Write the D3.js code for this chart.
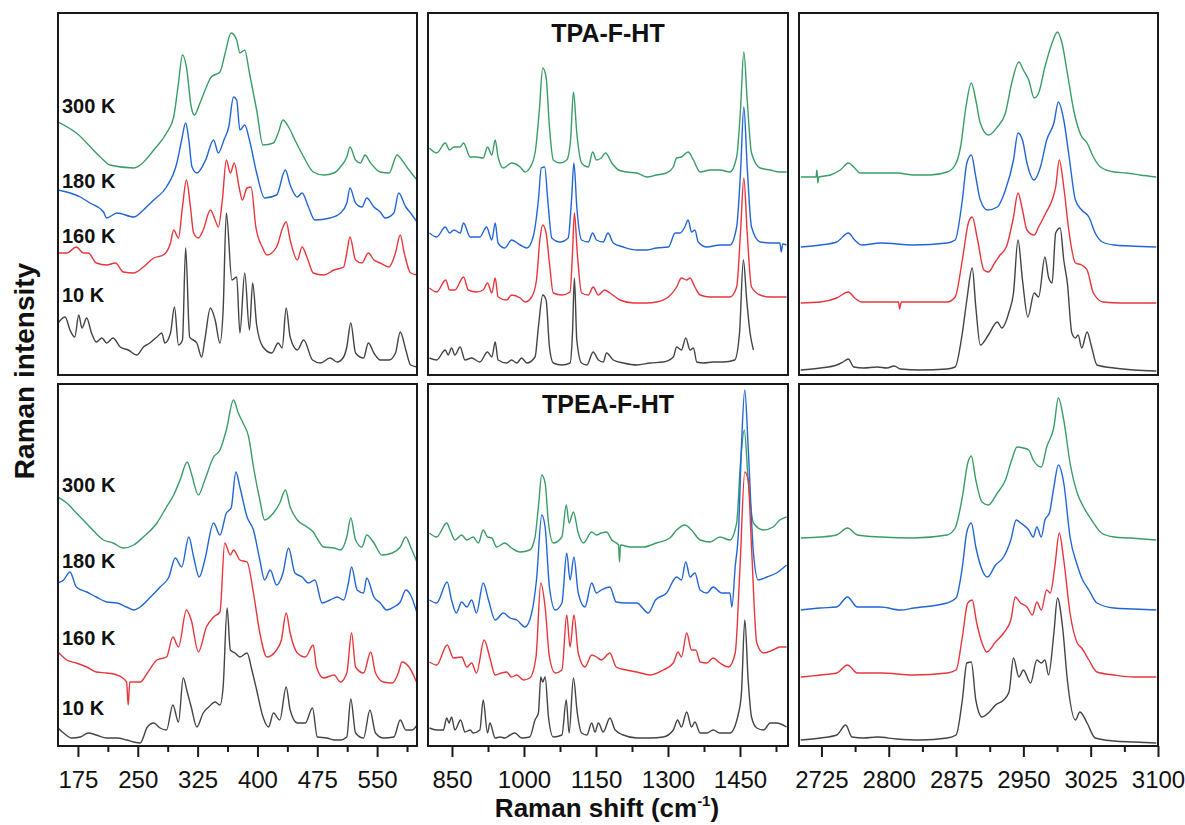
<!DOCTYPE html>
<html><head><meta charset="utf-8">
<script src="https://cdn.jsdelivr.net/npm/d3@7"></script>
<style>body{margin:0;background:#fff} svg{display:block;font-family:"Liberation Sans",Arial,sans-serif}</style>
</head><body><svg id="c" width="1185" height="825"></svg>
<script>
// ---- categories / labels ----
const temperatures = ["10 K", "160 K", "180 K", "300 K"];
const compounds = ["TPA-F-HT", "TPEA-F-HT"];
const shiftRanges = [[150, 600], [800, 1550], [2700, 3100]];
const majorTicks = [[175, 250, 325, 400, 475, 550], [850, 1000, 1150, 1300, 1450], [2725, 2800, 2875, 2950, 3025, 3100]];
const minorTicks = [[212.5, 287.5, 362.5, 437.5, 512.5, 587.5], [925, 1075, 1225, 1375, 1525], [2762.5, 2837.5, 2912.5, 2987.5, 3062.5]];

// ---- TPA-F-HT spectra (shift, stacked intensity a.u.) ----
const tpaLow300 = [[150,253],[173,242],[203,218],[215,210],[245,207],[253,210],[270,225],[286,242],[295,258],[301,292],[306,320],[311,308],[317,268],[321,260],[328,272],[336,288],[342,298],[353,303],[359,320],[367,342],[374,335],[378,322],[384,325],[390,302],[399,265],[407,230],[420,232],[426,242],[432,255],[439,248],[447,235],[458,218],[470,203],[483,200],[496,202],[504,208],[512,218],[516,228],[523,215],[529,212],[535,220],[541,213],[554,203],[565,202],[575,220],[581,215],[590,205],[600,195]];
const tpaLow180 = [[150,185],[161,183],[178,178],[190,172],[207,163],[211,157],[224,162],[245,158],[257,165],[270,175],[286,188],[299,212],[305,235],[310,252],[314,235],[318,208],[324,202],[335,215],[345,235],[351,222],[358,235],[364,248],[370,278],[374,275],[378,245],[384,250],[390,235],[399,202],[409,177],[424,180],[435,205],[441,190],[450,178],[456,182],[464,168],[472,155],[491,157],[504,162],[512,172],[516,187],[523,172],[531,168],[537,177],[546,168],[554,163],[560,157],[571,162],[577,182],[586,168],[592,162],[600,153]];
const tpaLow160 = [[150,122],[161,122],[173,128],[182,122],[188,122],[198,112],[211,110],[222,112],[232,103],[245,102],[257,108],[270,117],[282,120],[291,132],[295,145],[301,137],[306,168],[311,195],[316,168],[320,142],[326,137],[332,145],[341,165],[347,155],[351,148],[356,175],[361,215],[366,202],[371,212],[377,188],[381,175],[387,187],[392,188],[398,148],[406,128],[412,120],[424,128],[432,148],[436,153],[441,135],[450,115],[456,128],[462,118],[470,102],[483,100],[496,105],[508,108],[512,122],[516,138],[523,115],[531,112],[539,122],[546,115],[554,112],[565,108],[573,122],[579,140],[584,122],[592,102],[600,100]];
const tpaLow10 = [[150,52],[159,58],[165,45],[171,38],[176,60],[180,47],[186,57],[192,42],[198,33],[205,37],[211,32],[219,37],[228,28],[238,25],[249,20],[257,28],[265,32],[274,38],[280,42],[284,32],[291,42],[296,68],[301,30],[306,35],[310,127],[315,38],[324,32],[330,18],[334,35],[341,67],[347,55],[353,32],[357,65],[361,162],[368,95],[374,98],[378,42],[384,102],[390,45],[394,92],[399,50],[407,28],[418,22],[426,32],[431,27],[436,67],[441,38],[450,25],[458,35],[469,15],[479,12],[491,17],[500,13],[508,18],[512,28],[517,52],[523,22],[533,17],[539,32],[546,22],[554,15],[565,15],[573,22],[579,43],[586,25],[592,10],[600,8]];

const tpaMid300 = [[803,227],[818,222],[836,232],[845,225],[854,228],[867,228],[874,232],[888,218],[901,218],[915,217],[924,228],[933,220],[940,235],[946,218],[957,207],[974,212],[992,208],[1002,203],[1012,207],[1023,222],[1032,265],[1039,307],[1046,298],[1053,248],[1061,215],[1075,212],[1089,215],[1097,235],[1103,283],[1110,242],[1120,212],[1134,208],[1143,223],[1151,215],[1161,217],[1170,222],[1183,212],[1197,205],[1214,203],[1235,202],[1256,198],[1276,200],[1297,202],[1311,208],[1318,217],[1328,218],[1342,223],[1353,215],[1367,203],[1388,205],[1408,205],[1429,203],[1443,218],[1451,265],[1458,323],[1465,275],[1474,222],[1492,207],[1513,205],[1533,203],[1547,203]];
const tpaMid180 = [[803,142],[818,138],[836,148],[845,142],[854,145],[867,142],[874,152],[888,138],[908,138],[922,148],[933,135],[940,152],[946,132],[960,127],[974,135],[992,130],[1006,127],[1019,138],[1030,175],[1036,207],[1043,208],[1050,172],[1058,137],[1075,133],[1092,137],[1099,175],[1104,212],[1110,168],[1120,135],[1134,133],[1143,142],[1151,135],[1165,133],[1175,142],[1186,132],[1207,128],[1235,125],[1256,125],[1276,127],[1301,128],[1315,142],[1325,142],[1335,148],[1342,155],[1349,143],[1356,145],[1363,133],[1381,128],[1408,130],[1429,130],[1443,148],[1451,202],[1458,268],[1465,208],[1474,148],[1492,133],[1513,132],[1533,132],[1536,123],[1539,131],[1547,130]];
const tpaMid160 = [[803,87],[818,83],[837,95],[845,85],[856,85],[874,98],[884,85],[901,83],[915,85],[924,92],[933,82],[940,97],[946,78],[964,75],[974,80],[992,77],[1002,73],[1016,78],[1026,95],[1033,135],[1039,150],[1046,142],[1053,112],[1061,82],[1079,80],[1096,83],[1101,122],[1105,162],[1111,122],[1120,82],[1134,80],[1144,88],[1155,80],[1168,85],[1179,82],[1200,75],[1228,72],[1256,72],[1276,73],[1301,78],[1318,88],[1328,97],[1339,95],[1346,97],[1356,88],[1367,80],[1388,78],[1408,78],[1429,78],[1443,88],[1451,142],[1458,197],[1465,142],[1474,88],[1492,80],[1513,78],[1533,78],[1547,78]];
const tpaMid10 = [[803,17],[818,15],[836,25],[842,20],[849,27],[856,20],[867,28],[877,15],[891,17],[908,13],[924,23],[933,18],[940,33],[946,15],[964,12],[974,15],[985,12],[995,17],[1006,12],[1023,18],[1030,48],[1039,80],[1046,75],[1053,28],[1061,12],[1079,10],[1096,12],[1101,42],[1105,97],[1110,35],[1120,12],[1131,10],[1144,23],[1155,15],[1165,13],[1172,22],[1186,15],[1207,12],[1235,10],[1263,12],[1290,13],[1311,18],[1318,28],[1328,25],[1337,37],[1346,25],[1353,27],[1360,13],[1374,12],[1394,13],[1415,13],[1439,15],[1449,42],[1457,115],[1464,75],[1471,42],[1478,25]];

const tpaHigh300 = [[2702,198],[2716,198],[2719,198],[2720,205],[2721,192],[2722,198],[2735,200],[2746,205],[2755,212],[2761,208],[2768,202],[2791,202],[2809,202],[2828,200],[2846,200],[2865,203],[2874,210],[2880,228],[2886,268],[2892,292],[2897,275],[2902,252],[2911,240],[2921,248],[2930,262],[2937,292],[2945,313],[2950,305],[2956,295],[2962,277],[2967,282],[2974,308],[2982,332],[2988,343],[2993,332],[2999,302],[3006,265],[3014,240],[3021,232],[3028,218],[3036,208],[3051,203],[3065,202],[3080,200],[3098,198]];
const tpaHigh180 = [[2702,128],[2724,130],[2742,133],[2755,142],[2762,135],[2770,130],[2791,132],[2828,130],[2865,132],[2874,135],[2882,175],[2887,212],[2892,220],[2897,198],[2902,175],[2910,165],[2921,168],[2930,185],[2939,215],[2944,242],[2949,235],[2954,212],[2962,195],[2969,208],[2976,235],[2984,252],[2989,273],[2995,255],[3001,218],[3008,175],[3015,165],[3023,158],[3030,142],[3038,133],[3051,130],[3069,129],[3098,128]];
const tpaHigh160 = [[2702,72],[2724,73],[2742,77],[2755,83],[2762,77],[2770,73],[2791,73],[2811,73],[2812,66],[2814,73],[2835,73],[2865,73],[2874,78],[2882,115],[2889,153],[2893,158],[2899,135],[2906,105],[2911,103],[2918,112],[2924,120],[2931,128],[2939,158],[2944,182],[2949,165],[2954,145],[2962,140],[2967,148],[2975,162],[2982,175],[2986,188],[2990,215],[2995,188],[3001,142],[3008,112],[3015,110],[3021,105],[3028,82],[3039,73],[3058,72],[3080,72],[3098,72]];
const tpaHigh10 = [[2702,5],[2724,7],[2742,10],[2749,13],[2755,16],[2761,8],[2772,7],[2787,8],[2798,7],[2806,9],[2813,6],[2835,5],[2865,6],[2874,8],[2882,42],[2887,75],[2893,107],[2897,68],[2902,30],[2911,40],[2921,53],[2926,47],[2934,63],[2939,82],[2944,135],[2949,95],[2955,58],[2962,82],[2967,78],[2974,118],[2978,98],[2982,92],[2986,142],[2991,147],[2995,115],[2999,92],[3004,42],[3008,37],[3011,40],[3015,27],[3021,43],[3026,28],[3032,10],[3051,7],[3073,5],[3098,4]];

// ---- TPEA-F-HT spectra ----
const tpeaLow300 = [[150,249],[161,243],[173,233],[190,219],[207,206],[219,203],[232,198],[245,201],[257,209],[274,223],[286,239],[295,251],[303,266],[312,284],[317,273],[326,251],[334,266],[345,289],[353,296],[361,316],[370,346],[376,333],[382,323],[389,309],[395,279],[403,246],[409,226],[420,233],[428,243],[435,256],[441,239],[450,226],[462,219],[470,214],[476,206],[483,199],[496,198],[504,196],[512,209],[517,228],[523,206],[531,199],[537,211],[546,203],[556,191],[569,193],[579,199],[586,209],[592,199],[600,184]];
const tpeaLow180 = [[150,163],[157,166],[165,174],[173,159],[186,154],[198,149],[211,144],[224,143],[236,139],[245,136],[253,139],[266,149],[278,159],[289,169],[297,188],[305,179],[314,209],[320,189],[327,169],[334,186],[345,223],[353,211],[361,233],[367,238],[373,274],[378,259],[387,229],[395,216],[403,186],[409,166],[416,176],[424,161],[432,173],[439,198],[447,173],[456,169],[464,163],[472,166],[481,143],[491,146],[500,149],[508,146],[514,163],[518,179],[525,156],[533,153],[537,168],[546,149],[554,143],[562,136],[571,139],[579,144],[586,156],[592,151],[600,133]];
const tpeaLow160 = [[150,94],[161,86],[173,83],[186,79],[198,74],[211,73],[224,71],[236,64],[238,41],[240,64],[253,64],[262,73],[274,86],[286,89],[294,109],[301,99],[311,136],[317,126],[326,94],[336,119],[345,129],[353,134],[359,203],[366,191],[370,196],[378,186],[387,184],[395,153],[403,113],[412,89],[424,96],[430,106],[436,133],[441,113],[450,93],[460,89],[470,101],[474,79],[483,68],[496,71],[504,64],[512,73],[518,113],[523,79],[533,73],[542,94],[548,73],[558,64],[569,63],[577,74],[581,84],[590,79],[600,63]];
const tpeaLow10 = [[150,18],[157,13],[167,8],[178,9],[188,13],[198,11],[211,8],[224,8],[236,6],[245,4],[253,3],[262,19],[270,23],[278,18],[286,16],[294,41],[301,24],[307,68],[312,54],[317,39],[324,19],[332,33],[339,39],[347,44],[353,41],[357,59],[362,138],[366,96],[372,93],[378,89],[387,93],[393,76],[399,56],[407,29],[414,19],[420,33],[428,26],[436,59],[441,36],[450,23],[460,23],[469,38],[475,9],[487,8],[496,6],[504,6],[512,9],[517,47],[523,13],[533,8],[541,36],[548,13],[558,8],[571,9],[579,26],[586,16],[594,16],[600,21]];

const tpeaMid300 = [[803,213],[818,209],[839,223],[846,216],[856,206],[870,211],[881,206],[894,209],[905,203],[915,216],[924,209],[933,208],[943,199],[960,203],[974,198],[992,194],[1012,196],[1023,209],[1030,239],[1037,271],[1044,263],[1051,223],[1061,203],[1079,209],[1088,241],[1094,223],[1103,234],[1113,213],[1124,203],[1141,214],[1151,211],[1161,213],[1172,214],[1183,206],[1197,201],[1199,184],[1201,201],[1221,199],[1249,199],[1276,203],[1304,208],[1318,216],[1335,221],[1349,216],[1367,206],[1388,204],[1408,209],[1429,206],[1443,223],[1451,283],[1459,316],[1467,266],[1478,223],[1499,216],[1519,219],[1533,226],[1547,229]];
const tpeaMid180 = [[803,146],[818,143],[840,164],[849,146],[859,133],[870,144],[881,139],[891,146],[901,133],[915,163],[926,146],[940,126],[957,133],[971,128],[985,126],[1002,119],[1016,133],[1026,166],[1037,231],[1044,219],[1053,159],[1065,136],[1079,143],[1089,193],[1096,166],[1104,189],[1113,153],[1127,139],[1141,163],[1151,153],[1161,156],[1179,159],[1192,144],[1213,143],[1235,143],[1259,133],[1274,146],[1297,153],[1318,169],[1328,166],[1337,184],[1346,169],[1356,173],[1367,156],[1381,153],[1394,159],[1412,153],[1429,153],[1433,139],[1440,179],[1447,216],[1453,299],[1460,356],[1467,299],[1478,193],[1488,166],[1506,169],[1526,173],[1547,181]];
const tpeaMid160 = [[803,84],[818,81],[840,101],[853,88],[870,89],[881,79],[891,83],[901,73],[917,106],[929,88],[940,71],[953,73],[964,74],[974,69],[985,71],[999,66],[1012,68],[1025,89],[1035,163],[1044,139],[1053,89],[1065,73],[1079,76],[1089,131],[1096,99],[1104,131],[1113,93],[1127,79],[1141,91],[1151,89],[1161,86],[1179,93],[1192,79],[1213,76],[1235,74],[1263,71],[1290,76],[1311,83],[1321,94],[1328,89],[1339,113],[1349,96],[1358,96],[1367,84],[1381,83],[1394,88],[1408,83],[1426,79],[1440,93],[1450,179],[1460,274],[1467,266],[1474,199],[1485,103],[1499,93],[1519,96],[1533,99],[1547,99]];
const tpeaMid10 = [[803,18],[818,16],[832,16],[839,28],[844,23],[849,29],[856,16],[868,26],[877,14],[888,16],[894,13],[908,16],[915,46],[924,13],[929,23],[940,8],[950,9],[960,8],[971,11],[981,13],[995,8],[1012,9],[1023,26],[1030,33],[1035,69],[1039,64],[1044,69],[1051,29],[1061,9],[1079,11],[1088,46],[1094,13],[1103,68],[1111,33],[1120,13],[1131,11],[1141,23],[1148,14],[1155,23],[1165,14],[1179,28],[1190,16],[1207,11],[1235,8],[1263,8],[1290,9],[1311,16],[1320,26],[1328,19],[1339,34],[1349,19],[1356,24],[1367,13],[1381,13],[1394,16],[1408,13],[1429,13],[1447,33],[1453,53],[1460,126],[1467,66],[1474,29],[1485,18],[1499,16],[1513,23],[1526,23],[1547,19]];

const tpeaHigh300 = [[2702,208],[2724,209],[2742,211],[2754,218],[2765,211],[2791,209],[2828,208],[2865,211],[2874,218],[2882,249],[2888,283],[2892,290],[2897,266],[2904,244],[2911,241],[2921,253],[2930,266],[2937,286],[2943,299],[2950,298],[2956,296],[2961,286],[2970,279],[2976,299],[2984,319],[2989,348],[2995,326],[3002,283],[3010,253],[3017,239],[3026,226],[3037,213],[3051,209],[3069,208],[3098,206]];
const tpeaHigh180 = [[2702,136],[2724,138],[2742,139],[2754,149],[2765,139],[2791,139],[2813,136],[2828,138],[2865,143],[2875,148],[2882,179],[2887,214],[2892,223],[2897,199],[2904,176],[2910,169],[2919,181],[2928,189],[2936,206],[2942,226],[2947,223],[2956,216],[2961,209],[2965,219],[2970,209],[2974,226],[2979,233],[2984,259],[2989,281],[2995,263],[3002,209],[3010,181],[3015,168],[3023,156],[3032,143],[3051,138],[3073,137],[3098,136]];
const tpeaHigh160 = [[2702,69],[2724,71],[2742,73],[2754,81],[2765,73],[2791,73],[2828,71],[2865,73],[2875,76],[2882,109],[2888,143],[2893,146],[2898,123],[2904,103],[2909,94],[2919,104],[2928,113],[2936,126],[2941,149],[2947,143],[2954,139],[2960,131],[2965,144],[2970,136],[2976,156],[2980,153],[2985,179],[2990,213],[2995,186],[3002,133],[3010,103],[3015,98],[3023,86],[3032,74],[3051,71],[3073,69],[3098,69]];
const tpeaHigh10 = [[2702,6],[2724,8],[2742,11],[2752,21],[2759,9],[2772,8],[2787,9],[2809,7],[2835,6],[2865,8],[2875,11],[2882,46],[2887,83],[2892,84],[2897,46],[2904,29],[2911,33],[2919,41],[2928,46],[2934,54],[2939,88],[2945,69],[2950,76],[2958,63],[2965,86],[2970,83],[2974,86],[2978,71],[2984,113],[2988,148],[2994,116],[2999,66],[3008,26],[3013,34],[3021,23],[3030,8],[3051,5],[3073,4],[3098,3]];

// ---- assemble (row = compound, col = spectral range; order = temperatures) ----
const spectra = [
  [[tpaLow10, tpaLow160, tpaLow180, tpaLow300], [tpaMid10, tpaMid160, tpaMid180, tpaMid300], [tpaHigh10, tpaHigh160, tpaHigh180, tpaHigh300]],
  [[tpeaLow10, tpeaLow160, tpeaLow180, tpeaLow300], [tpeaMid10, tpeaMid160, tpeaMid180, tpeaMid300], [tpeaHigh10, tpeaHigh160, tpeaHigh180, tpeaHigh300]]
];

// ---- layout / style ----
const colors = ["#444444", "#e8363c", "#2266d6", "#3a9d66"];
const colX = [[58, 417], [428, 788], [799, 1158]];
const rowY = [[13, 375], [384, 746]];
const labelY = [[73, 132, 187, 262], [31, 101, 178, 254]];
const FONT = '"Liberation Sans", Arial, sans-serif';

const svg = d3.select("#c");
const defs = svg.append("defs");

for (let r = 0; r < 2; r++) {
  for (let c = 0; c < 3; c++) {
    const x = d3.scaleLinear().domain(shiftRanges[c]).range(colX[c]);
    const y = d3.scaleLinear().domain([0, 362]).range([rowY[r][1], rowY[r][0]]);
    const id = `clip-${r}-${c}`;
    defs.append("clipPath").attr("id", id).append("rect")
      .attr("x", colX[c][0] + 1).attr("y", rowY[r][0] + 1)
      .attr("width", colX[c][1] - colX[c][0] - 2).attr("height", rowY[r][1] - rowY[r][0] - 2);
    const g = svg.append("g");
    const line = d3.line().x(d => x(d[0])).y(d => y(d[1])).curve(d3.curveMonotoneX);
    const order = [0, 3, 2, 1];
    const lg = g.append("g").attr("clip-path", `url(#${id})`);
    order.forEach(i => {
      lg.append("path").datum(spectra[r][c][i])
        .attr("d", line).attr("fill", "none")
        .attr("stroke", colors[i]).attr("stroke-width", 1.4)
        .attr("stroke-linejoin", "round");
    });
    g.append("rect").attr("x", colX[c][0]).attr("y", rowY[r][0])
      .attr("width", colX[c][1] - colX[c][0]).attr("height", rowY[r][1] - rowY[r][0])
      .attr("fill", "none").attr("stroke", "#1a1a1a").attr("stroke-width", 2);

    if (c === 0) {
      temperatures.forEach((t, i) => {
        g.append("text").attr("x", x(155)).attr("y", y(labelY[r][i]))
          .attr("font-family", FONT).attr("font-weight", "bold").attr("font-size", 20)
          .attr("fill", "#111").text(t);
      });
    }
    if (c === 1) {
      g.append("text").attr("x", (colX[c][0] + colX[c][1]) / 2).attr("y", rowY[r][0] + 29)
        .attr("text-anchor", "middle").attr("font-family", FONT).attr("font-weight", "bold")
        .attr("font-size", 25).attr("fill", "#111").text(compounds[r]);
    }
    if (r === 1) {
      const ax = g.append("g").attr("transform", `translate(0,${rowY[r][1]})`)
        .call(d3.axisBottom(x).tickValues(majorTicks[c]).tickSize(11).tickPadding(14).tickFormat(d3.format("d")));
      ax.select(".domain").remove();
      ax.selectAll("line").attr("stroke", "#1a1a1a").attr("stroke-width", 2);
      ax.selectAll("text").attr("font-family", FONT).attr("font-size", 24).attr("fill", "#111");
      const mn = g.append("g").attr("transform", `translate(0,${rowY[r][1]})`)
        .call(d3.axisBottom(x).tickValues(minorTicks[c]).tickSize(6).tickFormat(""));
      mn.select(".domain").remove();
      mn.selectAll("line").attr("stroke", "#1a1a1a").attr("stroke-width", 2);
    }
  }
}

// axis titles
const xt = svg.append("text").attr("x", 607).attr("y", 817).attr("text-anchor", "middle")
  .attr("font-family", FONT).attr("font-weight", "bold").attr("font-size", 26).attr("fill", "#111");
xt.append("tspan").text("Raman shift (cm");
xt.append("tspan").attr("font-size", 15).attr("dy", -11).text("-1");
xt.append("tspan").attr("dy", 11).text(")");

svg.append("text").attr("transform", "translate(34,371) rotate(-90)").attr("text-anchor", "middle")
  .attr("font-family", FONT).attr("font-weight", "bold").attr("font-size", 28).attr("fill", "#111")
  .text("Raman intensity");
</script>
</body></html>
